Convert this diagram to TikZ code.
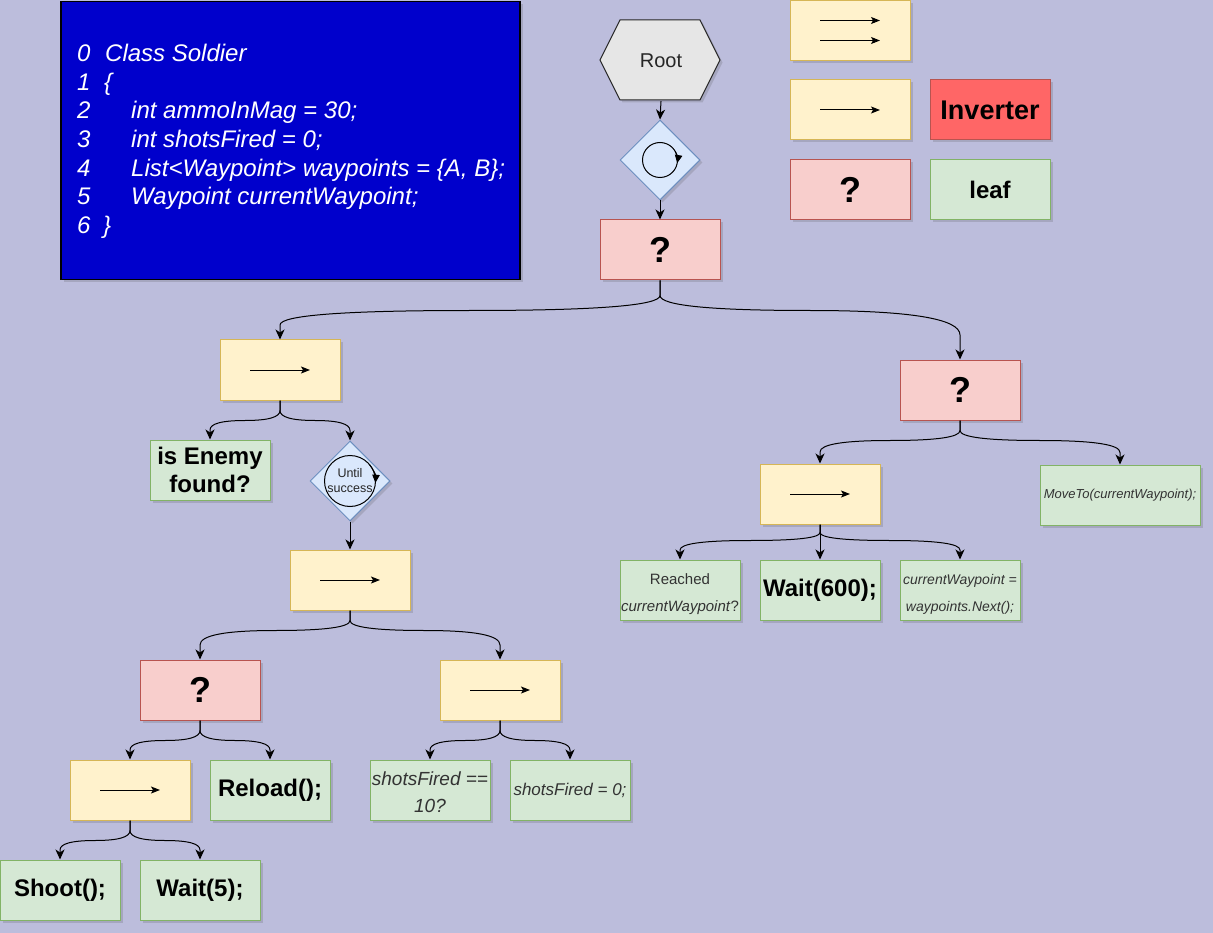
\documentclass[tikz,border=0pt]{standalone}
\usepackage{fontspec}
\setmainfont{Liberation Sans}
\usetikzlibrary{calc,shapes.geometric,arrows.meta,shadows}
\definecolor{bg}{RGB}{188,189,220}
\definecolor{yfill}{HTML}{FFF2CC}
\definecolor{ydraw}{HTML}{D6B656}
\definecolor{rfill}{HTML}{F8CECC}
\definecolor{rdraw}{HTML}{B85450}
\definecolor{gfill}{HTML}{D5E8D4}
\definecolor{gdraw}{HTML}{82B366}
\definecolor{bfill}{HTML}{DAE8FC}
\definecolor{bdraw}{HTML}{6C8EBF}
\definecolor{invfill}{HTML}{FF6666}
\definecolor{hexfill}{HTML}{E6E6E6}
\definecolor{codefill}{HTML}{0000CC}
\definecolor{dtext}{HTML}{333333}
\newcommand\setfs[2]{\fontsize{#1}{#2}\selectfont}
\tikzset{
 tree/.style={to path={
   let \p1=(\tikztostart), \p2=(\tikztotarget),
   \n1={\y1-#1}, \n2={(\y1+\n1)/2}, \n3={(\n1+\y2)/2}, \n4={(\x1+\x2)/2},
   \n5={\n2+2*(\n1-\n2)/3}, \n6={\n4+2*(\x1-\n4)/3},
   \n7={\n4+2*(\x2-\n4)/3}, \n8={\n3+2*(\n1-\n3)/3}
   in -- (\x1,{\n2*1pt})
   .. controls (\x1,{\n5*1pt}) and ({\n6*1pt},{\n1*1pt}) .. ({\n4*1pt},{\n1*1pt})
   .. controls ({\n7*1pt},{\n1*1pt}) and (\x2,{\n8*1pt}) .. (\x2,{\n3*1pt})
   -- (\tikztotarget)
 }},
 tree/.default=20
}
\begin{document}
\begin{tikzpicture}[x=1pt,y=-1pt,
  shadowed/.style={drop shadow={shadow xshift=2.5pt,shadow yshift=-2.5pt,opacity=0.2,fill=black!70}},
  edge/.style={line width=1pt,-{Stealth[length=10pt,width=9pt,inset=3pt]}},
  seqarrow/.style={draw=black, line width=1pt,-{Stealth[length=9pt,width=7pt,inset=2pt]}},
  box/.style={draw, line width=1pt, minimum width=120pt, minimum height=60pt, inner sep=0pt, align=center, shadowed},
  seqbox/.style={box, fill=yfill, draw=ydraw, path picture={\draw[seqarrow] ([xshift=-30pt]path picture bounding box.center) -- ([xshift=30pt]path picture bounding box.center);}},
  parbox/.style={box, fill=yfill, draw=ydraw, path picture={
     \draw[seqarrow] ([xshift=-30pt,yshift=10pt]path picture bounding box.center) -- ([xshift=30pt,yshift=10pt]path picture bounding box.center);
     \draw[seqarrow] ([xshift=-30pt,yshift=-10pt]path picture bounding box.center) -- ([xshift=30pt,yshift=-10pt]path picture bounding box.center);}},
  selbox/.style={box, fill=rfill, draw=rdraw, font=\bfseries\setfs{36}{40}},
  leafbox/.style={box, fill=gfill, draw=gdraw},
  bigbold/.style={font=\bfseries\setfs{24}{28}},
  lbl/.style={inner sep=0pt, align=center},
  dia/.style={diamond, aspect=1, draw=bdraw, fill=bfill, line width=1pt, minimum width=80pt, minimum height=80pt, inner sep=0pt, align=center, shadowed},
  loopc/.style={line width=1pt},
  looptip/.style={line width=1pt,-{Triangle[length=8pt,width=7.5pt]}},
  codetxt/.style={anchor=base west, inner sep=0pt, text=white, font=\itshape\setfs{24}{29}}
]
\fill[bg] (0,0) rectangle (1213,933);
\useasboundingbox (0,0) rectangle (1213,933);

% code box
\node[draw=black, line width=1.5pt, fill=codefill, minimum width=459pt, minimum height=278pt, inner sep=0pt, shadowed] (code) at (290.5,140.5) {};
\node[codetxt] (n0) at (77,61.7) {0};  \node[codetxt] (t0) at (105,61.7) {Class Soldier};
\node[codetxt] (n1) at (77,90.3) {1};  \node[codetxt] (t1) at (104,90.3) {\{};
\node[codetxt] (n2) at (77,118.9) {2}; \node[codetxt] (t2) at (131,118.9) {int ammoInMag = 30;};
\node[codetxt] (n3) at (77,147.5) {3}; \node[codetxt] (t3) at (131,147.5) {int shotsFired = 0;};
\node[codetxt] (n4) at (77,176.1) {4}; \node[codetxt] (t4) at (131,176.1) {List<Waypoint> waypoints = \{A, B\};};
\node[codetxt] (n5) at (77,204.7) {5}; \node[codetxt] (t5) at (131,204.7) {Waypoint currentWaypoint;};
\node[codetxt] (n6) at (77,233.3) {6}; \node[codetxt] (t6) at (103,233.3) {\}};

% legend
\node[parbox] (lg1) at (850,30.5) {};
\node[seqbox] (lg2) at (850,110) {};
\node[box, fill=invfill, draw=rdraw, font=\bfseries\setfs{27}{32}] (inv) at (990,110) {Inverter};
\node[selbox] (lg3) at (850,190) {?};
\node[leafbox, bigbold] (leaf) at (990,190) {leaf};

% root
\coordinate (rootc) at (660,60);
\filldraw[fill=hexfill, draw=black!85, line width=1pt, shadowed]
  ($(rootc)+(-60,0)$) -- ($(rootc)+(-40,-40)$) -- ($(rootc)+(40,-40)$) -- ($(rootc)+(60,0)$) -- ($(rootc)+(40,40)$) -- ($(rootc)+(-40,40)$) -- cycle;
\node[minimum width=120pt, minimum height=80pt, inner sep=0pt, font=\setfs{20}{24}, text=black!85] (root) at (661,61) {Root};

\node[dia] (d1) at (660,160) {};
\draw[loopc] (d1.center) circle[radius=17.5];
\draw[looptip] (d1.center) ++(-30:17.5) arc[start angle=-30, end angle=10, radius=17.5];

\node[selbox] (q1) at (660,250) {?};

% left branch
\node[seqbox] (s1) at (280,370) {};
\node[leafbox, bigbold] (enemy) at (210,470) {is Enemy\\found?};
\node[dia, font=\setfs{12.5}{15}, text=black!85] (d2) at (350,481) {Until\\success};
\draw[loopc] (d2.center) circle[radius=25.5];
\draw[looptip] (d2.center) ++(-40:25.5) arc[start angle=-40, end angle=4, radius=25.5];
\node[seqbox] (s2) at (350,580) {};
\node[selbox] (q2) at (200,690) {?};
\node[seqbox] (s3) at (500,690) {};
\node[seqbox] (s4) at (130,790) {};
\node[leafbox, bigbold] (reload) at (270,790) {Reload();};
\node[leafbox, bigbold] (shoot) at (60,890) {Shoot();};
\node[leafbox, bigbold] (wait5) at (200,890) {Wait(5);};
\node[leafbox] (sf10) at (430,790) {};
\node[lbl, font=\itshape\setfs{19}{27}, text=dtext] (sf10t) at (430,792) {shotsFired ==\\10?};
\node[leafbox, font=\itshape\setfs{17}{20}, text=dtext] (sf0) at (570,790) {shotsFired = 0;};

% right branch
\node[selbox] (q3) at (960,390) {?};
\node[seqbox] (sR) at (820,494) {};
\node[leafbox, font=\itshape\setfs{13}{16}, text=dtext, minimum width=160pt] (moveto) at (1120,495) {MoveTo(currentWaypoint);};
\node[leafbox] (reached) at (680,590) {};
\node[lbl, font=\setfs{15}{27}, text=dtext] (reachedt) at (680,594) {Reached\\\textit{currentWaypoint}?};
\node[leafbox, bigbold] (wait600) at (820,590) {Wait(600);};
\node[leafbox] (cw) at (960,590) {};
\node[lbl, font=\itshape\setfs{14}{27}, text=dtext] (cwt) at (960,594) {currentWaypoint =\\waypoints.Next();};

% edges
\draw[edge] (root.south) -- (d1.north);
\draw[edge] (d1.south) -- (q1.north);
\draw[edge] (q1.south) to[tree=30] (s1.north);
\draw[edge] (q1.south) to[tree=30] (q3.north);
\draw[edge] (s1.south) to[tree] (enemy.north);
\draw[edge] (s1.south) to[tree] (d2.north);
\draw[edge] (d2.south) -- (s2.north);
\draw[edge] (s2.south) to[tree] (q2.north);
\draw[edge] (s2.south) to[tree] (s3.north);
\draw[edge] (q2.south) to[tree] (s4.north);
\draw[edge] (q2.south) to[tree] (reload.north);
\draw[edge] (s4.south) to[tree] (shoot.north);
\draw[edge] (s4.south) to[tree] (wait5.north);
\draw[edge] (s3.south) to[tree] (sf10.north);
\draw[edge] (s3.south) to[tree] (sf0.north);
\draw[edge] (q3.south) to[tree] (sR.north);
\draw[edge] (q3.south) to[tree] (moveto.north);
\draw[edge] (sR.south) to[tree=16] (reached.north);
\draw[edge] (sR.south) -- (wait600.north);
\draw[edge] (sR.south) to[tree=16] (cw.north);
\end{tikzpicture}
\end{document}
